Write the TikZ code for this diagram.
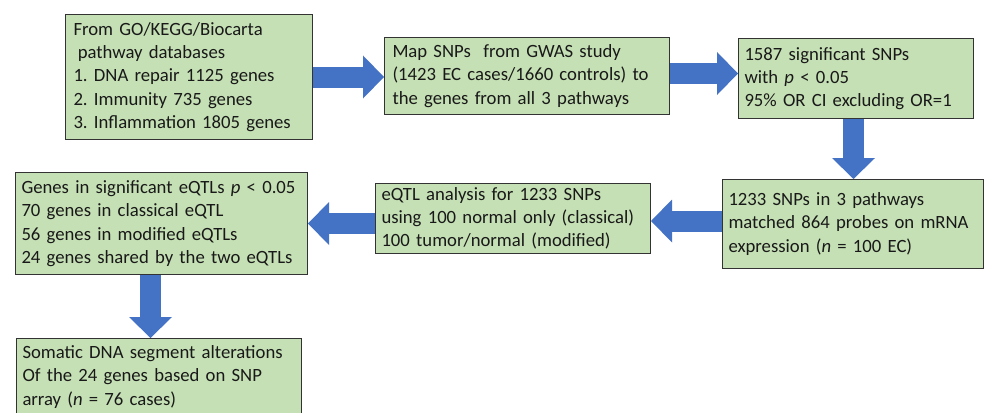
\documentclass[tikz,border=0pt]{standalone}
\usepackage{fontspec}
\setmainfont{Carlito}
\usetikzlibrary{positioning, calc, arrows.meta}
\usepackage{xcolor}
\definecolor{boxfill}{HTML}{C5E0B4}
\definecolor{boxline}{HTML}{333333}
\definecolor{arrowblue}{HTML}{4472C4}
\frenchspacing

\tikzset{
	flowbox/.style={draw=boxline, fill=boxfill, line width=1pt, anchor=north west, align=left,
		inner xsep=6pt, inner ysep=0pt, text=black!90, font=\fontsize{18.7}{23.3}\selectfont},
	flowarrow/.style={draw=arrowblue, line width=21pt, -{Triangle[width=43pt, length=21pt, line width=0pt]}},
}

\begin{document}
\begin{tikzpicture}[x=1pt, y=1pt]
		\useasboundingbox (0,0) rectangle (984,-412);

		% top row
		\node[flowbox, inner xsep=8pt, minimum height=125pt, text width=231pt] (pathways) at (65,-14) {From GO/KEGG/Biocarta\\\hspace*{0.23em}pathway databases\\1. DNA repair 1125 genes\\2. Immunity 735 genes\\3. Inflammation 1805 genes};
		\node[flowbox, inner xsep=8pt, minimum height=77pt, text width=269pt] (gwas) at (384,-37) {Map SNPs\ \ from GWAS study\\(1423 EC cases/1660 controls) to\\the genes from all 3 pathways};
		\node[flowbox, minimum height=80pt, text width=223pt] (signif) at (738,-38) {1587 significant SNPs\\with \textit{p} < 0.05\\95\% OR CI excluding OR=1};

		% middle row, read right to left
		\node[flowbox, minimum height=89pt, text width=249pt] (probes) at (722,-179) {1233 SNPs in 3 pathways\\matched 864 probes on mRNA\\expression (\textit{n} = 100 EC)};
		\node[flowbox, minimum height=70pt, text width=263pt] (eqtl) at (375,-183) {eQTL analysis for 1233 SNPs\\using 100 normal only (classical)\\100 tumor/normal (modified)};
		\node[flowbox, minimum height=102pt, text width=280pt] (genes) at (15,-172) {Genes in significant eQTLs \textit{p} < 0.05\\70 genes in classical eQTL\\56 genes in modified eQTLs\\24 genes shared by the two eQTLs};

		% bottom box runs off the page
		\node[flowbox, minimum height=77pt, text width=273pt] (somatic) at (16,-338) {Somatic DNA segment alterations\\Of the 24 genes based on SNP\\array (\textit{n} = 76 cases)};

		% block arrows
		\draw[flowarrow] (pathways.east) -- (pathways.east -| gwas.west);
		\draw[flowarrow] ([yshift=2.5pt]gwas.east) -- ([yshift=2.5pt]gwas.east -| signif.west);
		\draw[flowarrow] ([xshift=-2.5pt]signif.south) -- ([xshift=-2.5pt]signif.south |- probes.north);
		\draw[flowarrow] ([yshift=3pt]probes.west) -- ([yshift=3pt]probes.west -| eqtl.east);
		\draw[flowarrow] (eqtl.west |- genes.east) -- (genes.east);
		\draw[flowarrow] ([xshift=-11pt]genes.south) -- ([xshift=-11pt]genes.south |- somatic.north);
	\end{tikzpicture}
\end{document}
